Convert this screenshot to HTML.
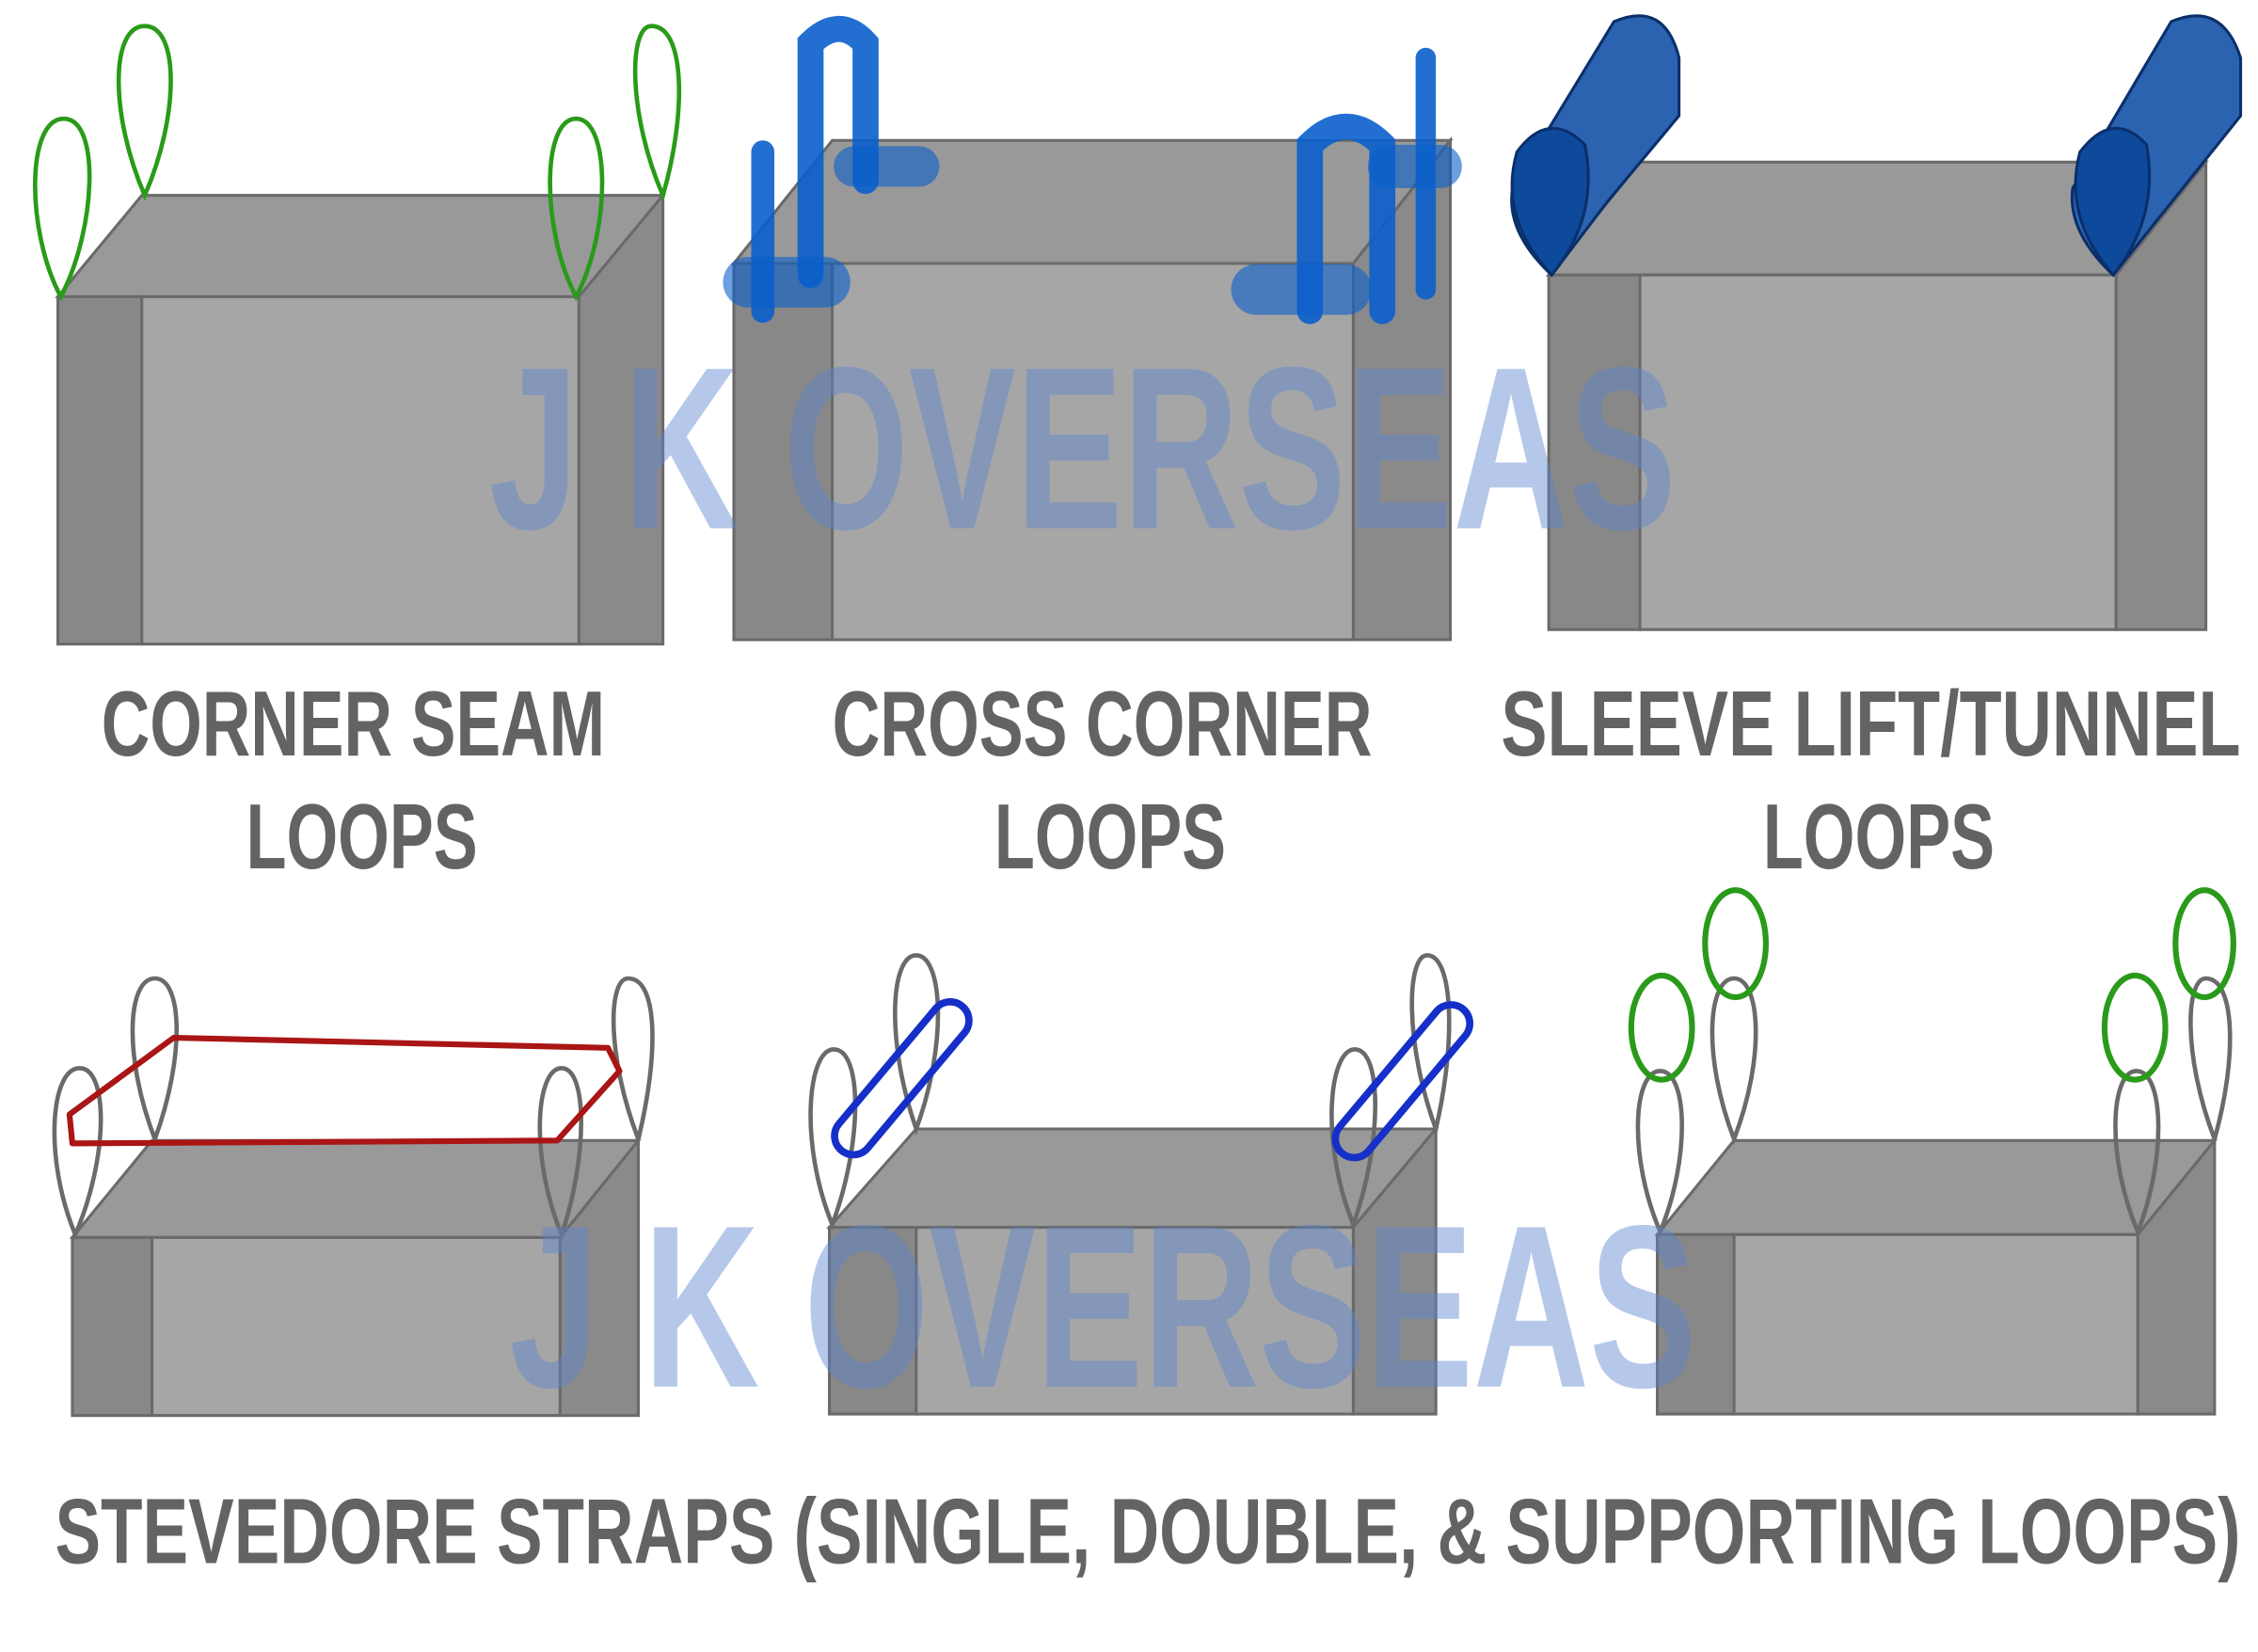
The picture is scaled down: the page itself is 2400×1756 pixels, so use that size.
<!DOCTYPE html>
<html><head><meta charset="utf-8"><style>html,body{margin:0;padding:0;background:#fff}svg{display:block}</style></head><body>
<svg width="2400" height="1756" viewBox="0 0 1560 1141.4" preserveAspectRatio="none" xmlns="http://www.w3.org/2000/svg">
<rect width="1560" height="1142" fill="#fff"/>
<g stroke="#6a6a6a" stroke-width="2">
<!-- box1 -->
<polygon points="40,205 98,135 458,135 400,205" fill="#999"/>
<rect x="40" y="205" width="58" height="240" fill="#888"/>
<rect x="98" y="205" width="302" height="240" fill="#a6a6a6"/>
<polygon points="400,205 458,135 458,445 400,445" fill="#8a8a8a"/>
<!-- box2 -->
<polygon points="507,182 575,97 1002,97 935,182" fill="#999"/>
<rect x="507" y="182" width="68" height="260" fill="#888"/>
<rect x="575" y="182" width="360" height="260" fill="#a6a6a6"/>
<polygon points="935,182 1002,97 1002,442 935,442" fill="#8a8a8a"/>
<!-- box3 -->
<polygon points="1070,190 1133,112 1524,112 1462,190" fill="#999"/>
<rect x="1070" y="190" width="63" height="245" fill="#888"/>
<rect x="1133" y="190" width="329" height="245" fill="#a6a6a6"/>
<polygon points="1462,190 1524,112 1524,435 1462,435" fill="#8a8a8a"/>
<!-- box4 -->
<polygon points="50,855 105,788 441,788 387,855" fill="#999"/>
<rect x="50" y="855" width="55" height="123" fill="#888"/>
<rect x="105" y="855" width="282" height="123" fill="#a6a6a6"/>
<polygon points="387,855 441,788 441,978 387,978" fill="#8a8a8a"/>
<!-- box5 -->
<polygon points="573,848 633,780 992,780 935,848" fill="#999"/>
<rect x="573" y="848" width="60" height="129" fill="#888"/>
<rect x="633" y="848" width="302" height="129" fill="#a6a6a6"/>
<polygon points="935,848 992,780 992,977 935,977" fill="#8a8a8a"/>
<!-- box6 -->
<polygon points="1145,853 1198,788 1530,788 1477,853" fill="#999"/>
<rect x="1145" y="853" width="53" height="124" fill="#888"/>
<rect x="1198" y="853" width="279" height="124" fill="#a6a6a6"/>
<polygon points="1477,853 1530,788 1530,977 1477,977" fill="#8a8a8a"/>
</g>
<!-- green corner seam loops -->
<g fill="none" stroke="#2a9a1a" stroke-width="3">
<path d="M42,205 C18,160 18,82 44,82 C70,82 66,160 42,205Z"/>
<path d="M100,135 C76,80 76,18 100,18 C124,18 124,80 100,135Z"/>
<path d="M398,205 C374,160 374,82 398,82 C422,82 422,160 398,205Z"/>
<path d="M458,135 C434,80 434,18 450,18 C474,18 474,80 458,135Z"/>
</g>
<!-- cross corner blue -->
<g fill="none" stroke="#0a5fcc" stroke-linecap="round" stroke-opacity="0.9">
<path d="M527,215 V105" stroke-width="16"/>
<path d="M560,190 V30 Q580,10 598,30 V125" stroke-width="18"/>
<path d="M517,195 H570" stroke-width="35" stroke-opacity="0.6"/>
<path d="M590,115 H635" stroke-width="28" stroke-opacity="0.6"/>
<path d="M905,215 V100 Q930,75 955,100 V215" stroke-width="18"/>
<path d="M985,200 V40" stroke-width="14"/>
<path d="M868,200 H930" stroke-width="35" stroke-opacity="0.6"/>
<path d="M960,115 H995" stroke-width="30" stroke-opacity="0.6"/>
</g>
<!-- sleeves -->
<g stroke="#0a2f6a" stroke-width="2">
<path d="M1045,130 L1115,15 Q1150,0 1160,40 L1160,80 L1110,140 L1072,190 Q1040,160 1045,130Z" fill="#2b63b0"/>
<path d="M1072,190 Q1035,150 1048,105 Q1070,75 1095,100 Q1105,150 1072,190Z" fill="#0e4a9c"/>
<path d="M1432,130 L1500,15 Q1535,0 1548,40 L1548,80 L1500,140 L1460,190 Q1428,160 1432,130Z" fill="#2b63b0"/>
<path d="M1460,190 Q1425,150 1437,105 Q1460,75 1483,100 Q1492,150 1460,190Z" fill="#0e4a9c"/>
</g>
<!-- gray loops bottom -->
<g fill="none" stroke="#6a6a6a" stroke-width="3">
<path d="M52,853 C30,800 35,738 55,738 C75,738 75,800 52,853Z"/>
<path d="M107,787 C85,730 88,676 107,676 C126,676 128,730 107,787Z"/>
<path d="M388,853 C366,800 370,738 388,738 C406,738 406,800 388,853Z"/>
<path d="M441,787 C419,730 420,676 434,676 C455,676 455,730 441,787Z"/>
<path d="M575,846 C552,790 558,725 576,725 C596,725 596,790 575,846Z"/>
<path d="M633,780 C612,720 615,660 633,660 C651,660 655,720 633,780Z"/>
<path d="M935,846 C912,790 918,725 936,725 C955,725 955,790 935,846Z"/>
<path d="M992,780 C970,720 972,660 986,660 C1004,660 1006,720 992,780Z"/>
<path d="M1147,851 C1125,800 1128,740 1147,740 C1166,740 1168,800 1147,851Z"/>
<path d="M1198,787 C1176,730 1180,676 1198,676 C1216,676 1220,730 1198,787Z"/>
<path d="M1477,851 C1455,800 1458,740 1476,740 C1495,740 1497,800 1477,851Z"/>
<path d="M1530,787 C1508,730 1510,676 1524,676 C1544,676 1546,730 1530,787Z"/>
</g>
<!-- red strap -->
<path d="M50,790 L48,770 L120,717 L420,724 L428,740 L385,788 Z" fill="none" stroke="#aa1515" stroke-width="4" stroke-linejoin="round"/>
<!-- blue clips -->
<g fill="none" stroke="#1530c8" stroke-width="5">
<rect x="610" y="680" width="26" height="130" rx="13" transform="rotate(40 623 745)"/>
<rect x="956" y="682" width="26" height="130" rx="13" transform="rotate(40 969 747)"/>
</g>
<!-- green rings -->
<g fill="none" stroke="#2a9a1a" stroke-width="4">
<ellipse cx="1148" cy="710" rx="21" ry="36"/>
<ellipse cx="1199" cy="652" rx="21" ry="37"/>
<ellipse cx="1475" cy="710" rx="21" ry="36"/>
<ellipse cx="1523" cy="652" rx="20" ry="37"/>
</g>
<!-- watermarks -->
<g font-family="Liberation Sans Narrow, Liberation Sans, sans-serif" font-weight="bold" fill="#5b86d0" fill-opacity="0.45">
<text x="338" y="365" font-size="160" textLength="820" lengthAdjust="spacingAndGlyphs">J K OVERSEAS</text>
<text x="352" y="958" font-size="160" textLength="820" lengthAdjust="spacingAndGlyphs">J K OVERSEAS</text>
</g>
<!-- labels -->
<g font-family="Liberation Sans Narrow, Liberation Sans, sans-serif" font-weight="bold" fill="#636363" font-size="64">
<text x="70" y="522" textLength="348" lengthAdjust="spacingAndGlyphs">CORNER SEAM</text>
<text x="170" y="600" textLength="160" lengthAdjust="spacingAndGlyphs">LOOPS</text>
<text x="575" y="522" textLength="373" lengthAdjust="spacingAndGlyphs">CROSS CORNER</text>
<text x="687" y="600" textLength="160" lengthAdjust="spacingAndGlyphs">LOOPS</text>
<text x="1037" y="522" textLength="511" lengthAdjust="spacingAndGlyphs">SLEEVE LIFT/TUNNEL</text>
<text x="1218" y="600" textLength="160" lengthAdjust="spacingAndGlyphs">LOOPS</text>
<text x="38" y="1080" textLength="1510" lengthAdjust="spacingAndGlyphs">STEVEDORE STRAPS (SINGLE, DOUBLE, &amp; SUPPORTING LOOPS)</text>
</g>
</svg>
</body></html>
